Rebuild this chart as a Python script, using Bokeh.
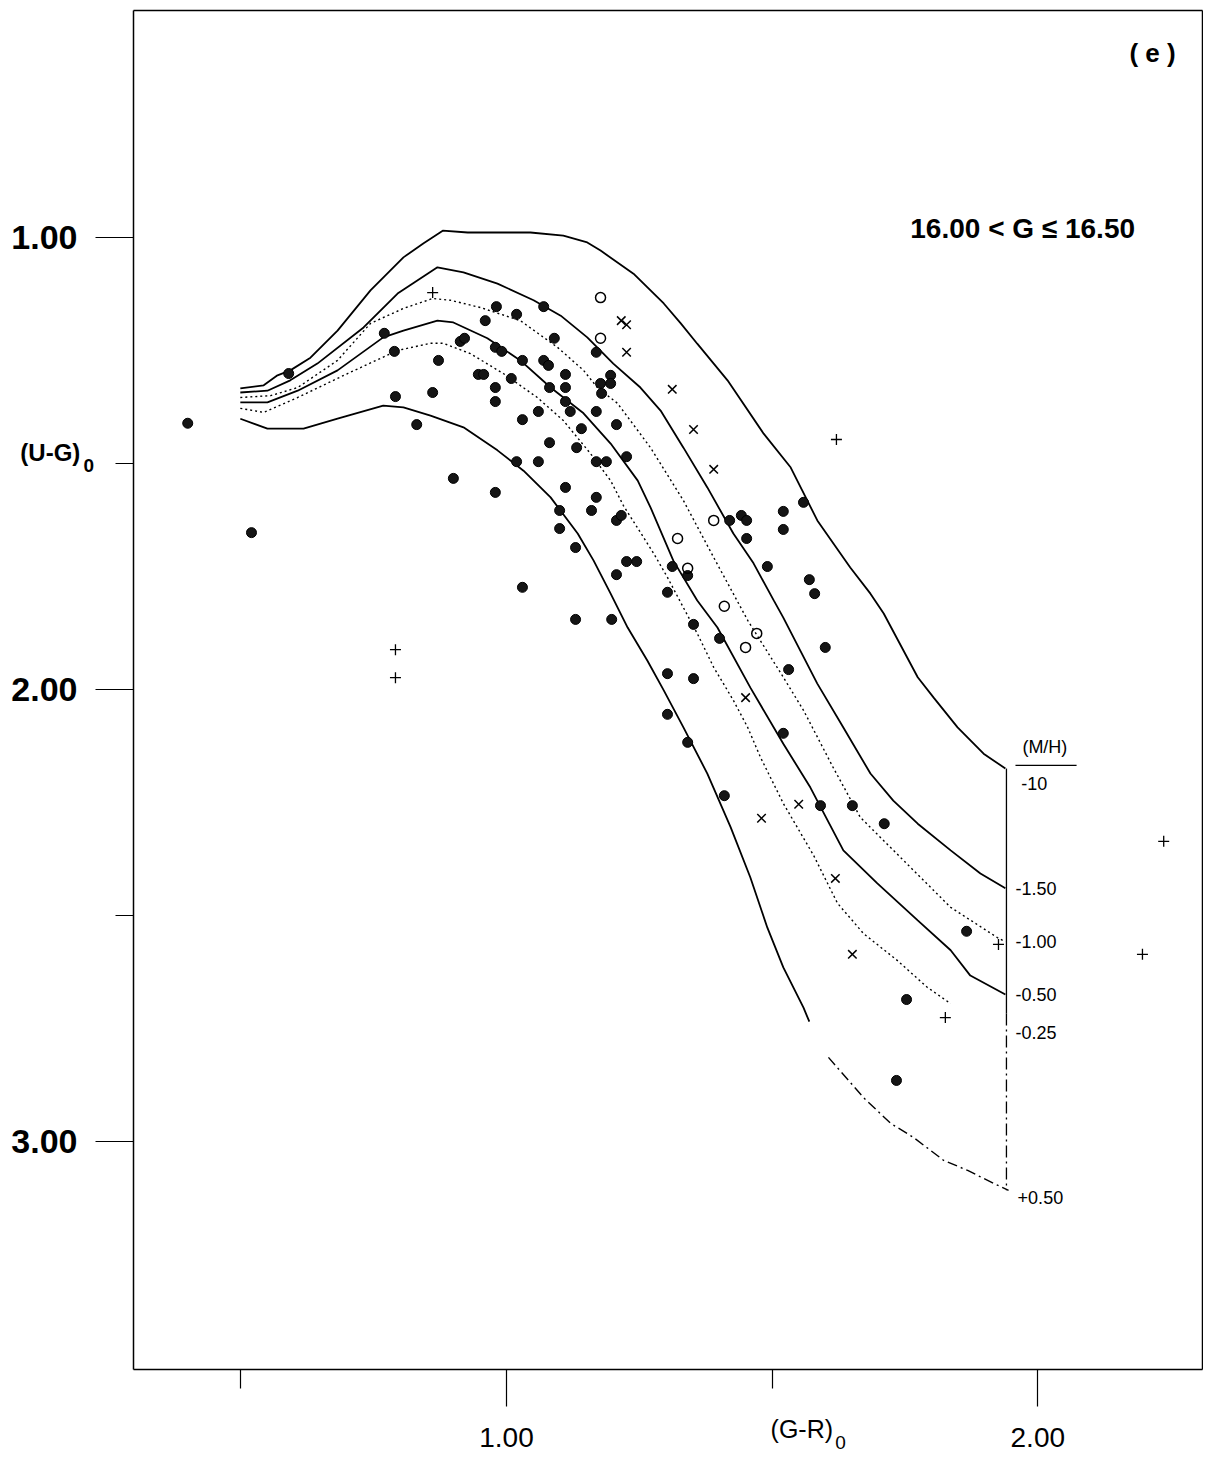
from bokeh.plotting import figure
from bokeh.models import FixedTicker, Label, NumeralTickFormatter, LinearAxis, Range1d
from bokeh.embed import file_html
from bokeh.resources import INLINE

# ---------------- data ----------------
# filled circles
dot_x = [0.400, 0.520, 0.590, 0.770, 0.789, 0.791, 0.831, 0.861, 0.872, 0.900,
         0.913, 0.921, 0.947, 0.957, 0.960, 0.979, 0.991, 0.979, 0.979, 0.979,
         0.981, 1.009, 1.019, 1.019, 1.030, 1.030, 1.030, 1.060, 1.060, 1.070,
         1.070, 1.079, 1.081, 1.081, 1.090, 1.100, 1.100, 1.111, 1.111, 1.111,
         1.111, 1.120, 1.130, 1.130, 1.132, 1.141, 1.160, 1.169, 1.169, 1.169,
         1.169, 1.177, 1.179, 1.188, 1.196, 1.196, 1.198, 1.207, 1.207, 1.216,
         1.207, 1.226, 1.226, 1.245, 1.303, 1.303, 1.303, 1.312, 1.341, 1.341,
         1.352, 1.352, 1.401, 1.410, 1.420, 1.442, 1.452, 1.452, 1.491, 1.521,
         1.521, 1.521, 1.531, 1.559, 1.570, 1.580, 1.591, 1.600, 1.651, 1.711,
         1.734, 1.753, 1.866]
dot_y = [1.411, 1.653, 1.301, 1.212, 1.252, 1.352, 1.414, 1.343, 1.272, 1.533,
         1.230, 1.223, 1.303, 1.303, 1.184, 1.243, 1.252, 1.332, 1.363, 1.564,
         1.153, 1.312, 1.170, 1.496, 1.272, 1.403, 1.774, 1.385, 1.496, 1.153,
         1.272, 1.283, 1.332, 1.454, 1.223, 1.604, 1.644, 1.303, 1.332, 1.363,
         1.553, 1.385, 1.686, 1.845, 1.465, 1.423, 1.604, 1.254, 1.385, 1.496,
         1.575, 1.323, 1.345, 1.496, 1.305, 1.323, 1.845, 1.414, 1.626, 1.615,
         1.746, 1.485, 1.717, 1.717, 1.785, 1.965, 2.055, 1.728, 1.748, 2.117,
         1.856, 1.976, 1.887, 2.235, 1.626, 1.615, 1.626, 1.666, 1.728, 1.606,
         1.646, 2.097, 1.956, 1.586, 1.757, 1.788, 2.257, 1.907, 2.257, 2.297,
         2.865, 2.686, 2.535]

# open circles
open_x = [1.177, 1.177, 1.322, 1.341, 1.390, 1.410, 1.471, 1.450]
open_y = [1.133, 1.223, 1.666, 1.732, 1.626, 1.816, 1.876, 1.907]

# diagonal crosses
xmark_x = [1.216, 1.226, 1.226, 1.312, 1.352, 1.390, 1.450, 1.480, 1.550, 1.619, 1.651]
xmark_y = [1.184, 1.193, 1.254, 1.336, 1.425, 1.513, 2.018, 2.285, 2.254, 2.418, 2.586]

# plus signs
plus_x = [0.861, 0.791, 0.791, 1.621, 2.237, 2.197, 1.926, 1.826]
plus_y = [1.122, 1.912, 1.974, 1.447, 2.336, 2.586, 2.564, 2.726]

# model loci, one per metallicity [M/H]
mh_m10_x = [0.499, 0.543, 0.569, 0.593, 0.631, 0.682, 0.744, 0.806, 0.844, 0.880,
            0.927, 0.989, 1.045, 1.107, 1.152, 1.177, 1.239, 1.296, 1.328, 1.359,
            1.416, 1.484, 1.535, 1.585, 1.647, 1.685, 1.710, 1.774, 1.804, 1.849,
            1.898, 1.939]
mh_m10_y = [1.334, 1.327, 1.305, 1.294, 1.266, 1.206, 1.117, 1.044, 1.013, 0.985,
            0.989, 0.989, 0.989, 0.996, 1.011, 1.029, 1.080, 1.146, 1.190, 1.235,
            1.316, 1.434, 1.509, 1.626, 1.730, 1.788, 1.832, 1.973, 2.018, 2.084,
            2.142, 2.175]

mh_m150_x = [0.499, 0.550, 0.593, 0.644, 0.731, 0.795, 0.870, 0.919, 0.983, 1.051,
             1.102, 1.152, 1.201, 1.252, 1.290, 1.333, 1.378, 1.427, 1.465, 1.503,
             1.521, 1.585, 1.634, 1.685, 1.728, 1.774, 1.836, 1.892, 1.939]
mh_m150_y = [1.343, 1.339, 1.316, 1.279, 1.199, 1.124, 1.066, 1.077, 1.102, 1.139,
             1.173, 1.221, 1.279, 1.332, 1.383, 1.465, 1.553, 1.655, 1.721, 1.803,
             1.841, 1.987, 2.084, 2.186, 2.246, 2.297, 2.356, 2.407, 2.440]

mh_m100_x = [0.499, 0.556, 0.607, 0.682, 0.744, 0.806, 0.861, 0.895, 0.951, 1.026,
             1.096, 1.145, 1.171, 1.209, 1.247, 1.271, 1.333, 1.390, 1.454, 1.521,
             1.559, 1.615, 1.666, 1.742, 1.836, 1.924, 1.939]
mh_m100_y = [1.354, 1.350, 1.332, 1.272, 1.190, 1.157, 1.135, 1.139, 1.155, 1.184,
             1.243, 1.294, 1.332, 1.367, 1.427, 1.465, 1.582, 1.708, 1.847, 1.973,
             2.046, 2.173, 2.283, 2.372, 2.482, 2.549, 2.558]

mh_m050_x = [0.499, 0.550, 0.607, 0.682, 0.768, 0.806, 0.870, 0.900, 0.964, 1.026,
             1.083, 1.145, 1.196, 1.247, 1.271, 1.314, 1.359, 1.397, 1.459, 1.521,
             1.572, 1.634, 1.698, 1.774, 1.836, 1.873, 1.939]
mh_m050_y = [1.365, 1.365, 1.339, 1.294, 1.221, 1.206, 1.184, 1.188, 1.223, 1.272,
             1.332, 1.389, 1.456, 1.538, 1.597, 1.715, 1.803, 1.863, 1.996, 2.120,
             2.217, 2.356, 2.429, 2.511, 2.577, 2.633, 2.675]

mh_m025_x = [0.499, 0.543, 0.607, 0.701, 0.795, 0.857, 0.881, 0.932, 0.994, 1.058,
             1.107, 1.158, 1.196, 1.220, 1.277, 1.303, 1.333, 1.359, 1.390, 1.427,
             1.454, 1.478, 1.521, 1.578, 1.623, 1.672, 1.736, 1.792, 1.836]
mh_m025_y = [1.378, 1.387, 1.354, 1.301, 1.250, 1.234, 1.234, 1.257, 1.301, 1.354,
             1.405, 1.478, 1.538, 1.593, 1.699, 1.752, 1.819, 1.876, 1.951, 2.024,
             2.084, 2.150, 2.252, 2.367, 2.473, 2.540, 2.600, 2.659, 2.695]

mh_p050_x = [0.499, 0.550, 0.618, 0.682, 0.768, 0.806, 0.857, 0.919, 0.983, 1.032,
             1.083, 1.134, 1.164, 1.196, 1.228, 1.265, 1.296, 1.333, 1.378, 1.422,
             1.459, 1.491, 1.521, 1.559, 1.570]
mh_p050_y = [1.401, 1.423, 1.423, 1.401, 1.372, 1.376, 1.394, 1.420, 1.471, 1.516,
             1.575, 1.655, 1.715, 1.788, 1.863, 1.936, 2.002, 2.084, 2.186, 2.305,
             2.416, 2.527, 2.615, 2.704, 2.735]
# continuation of the +0.50 locus (drawn broken)
mh_p050_ext_x = [1.606, 1.672, 1.723, 1.766, 1.823, 1.868, 1.917, 1.945]
mh_p050_ext_y = [2.814, 2.903, 2.960, 2.991, 3.042, 3.064, 3.093, 3.108]

# [M/H] key: line joining the ends of the loci, and the labels
key_x = 1.941
key_solid_y = [2.175, 2.717]
key_dash_y = [2.717, 3.108]
key_title = "(M/H)"
key_title_pos = (1.971, 2.128)
key_rule_x = [1.958, 2.073]
key_rule_y = 2.168
key_labels = ["-10", "-1.50", "-1.00", "-0.50", "-0.25", "+0.50"]
key_label_x = [1.969, 1.958, 1.958, 1.958, 1.958, 1.962]
key_label_y = [2.208, 2.440, 2.558, 2.675, 2.759, 3.124]

# axes / box
x_major = [1.0, 2.0]
x_minor = [0.5, 1.5]
y_major = [1.0, 2.0, 3.0]
y_minor = [1.5, 2.5]
box_left, box_right = 0.298, 2.310     # (G-R)o at the box sides
box_top, box_bottom = 0.498, 3.504     # (U-G)o at the box top / bottom
view_x = (0.0476, 2.3119)              # whole drawing area, data units
view_y = (3.6970, 0.4757)

W, H = 1203, 1456

# ---------------- figure ----------------
p = figure(width=W, height=H, title=None,
           x_range=Range1d(*view_x), y_range=Range1d(*view_y),
           output_backend="svg", toolbar_location=None,
           min_border=0, min_border_left=0, min_border_right=0,
           min_border_top=0, min_border_bottom=0,
           background_fill_color="white", border_fill_color="white")
p.grid.visible = False
p.outline_line_color = None

# bottom axis
xa = p.xaxis[0]
xa.fixed_location = box_bottom
xa.bounds = (box_left, box_right)
xa.ticker = FixedTicker(ticks=x_major, minor_ticks=x_minor)
xa.formatter = NumeralTickFormatter(format="0.00")
xa.axis_line_width = 1.5
xa.major_tick_in = 0
xa.major_tick_out = 37
xa.minor_tick_in = 0
xa.minor_tick_out = 19
xa.major_tick_line_width = 1.2
xa.minor_tick_line_width = 1.2
xa.major_label_standoff = 22
xa.major_label_text_font = "Liberation Sans Narrow, Liberation Sans, Arial"
xa.major_label_text_font_size = "28px"
xa.major_label_text_color = "black"

# left axis
ya = p.yaxis[0]
ya.fixed_location = box_left
ya.bounds = (box_top, box_bottom)
ya.ticker = FixedTicker(ticks=y_major, minor_ticks=y_minor)
ya.formatter = NumeralTickFormatter(format="0.00")
ya.axis_line_width = 1.5
ya.major_tick_in = 0
ya.major_tick_out = 38
ya.minor_tick_in = 0
ya.minor_tick_out = 18
ya.major_tick_line_width = 1.2
ya.minor_tick_line_width = 1.2
ya.major_label_standoff = 18
ya.major_label_text_font = "Liberation Sans"
ya.major_label_text_font_style = "bold"
ya.major_label_text_font_size = "34px"
ya.major_label_text_color = "black"

# top and right sides of the box (axes without ticks)
def plain_axis(loc, bounds):
    ax = LinearAxis(fixed_location=loc, bounds=bounds,
                    ticker=FixedTicker(ticks=[], minor_ticks=[]),
                    axis_line_width=1.5, major_tick_out=0, major_tick_in=0,
                    minor_tick_out=0, minor_tick_in=0,
                    major_label_text_font_size="0px")
    return ax

p.add_layout(plain_axis(box_top, (box_left, box_right)), "above")
p.add_layout(plain_axis(box_right, (box_top, box_bottom)), "right")

# loci
solid = dict(line_color="black", line_width=1.8)
dotted = dict(line_color="black", line_width=1.4, line_dash="2 3")
p.line(mh_m10_x, mh_m10_y, **solid)
p.line(mh_m150_x, mh_m150_y, **solid)
p.line(mh_m100_x, mh_m100_y, **dotted)
p.line(mh_m050_x, mh_m050_y, **solid)
p.line(mh_m025_x, mh_m025_y, **dotted)
p.line(mh_p050_x, mh_p050_y, **solid)
p.line(mh_p050_ext_x, mh_p050_ext_y, line_color="black", line_width=1.4,
       line_dash="10 4 2 4")

# key line
p.line([key_x, key_x], key_solid_y, line_color="black", line_width=1.3)
p.line([key_x, key_x], key_dash_y, line_color="black", line_width=1.3,
       line_dash="12 4 2 4")
p.line(key_rule_x, [key_rule_y, key_rule_y], line_color="black", line_width=1.3)

# stars
p.scatter(dot_x, dot_y, marker="circle", size=10, fill_color="#151515",
          line_color="#000000", line_width=1)
p.scatter(open_x, open_y, marker="circle", size=10, fill_color=None,
          line_color="black", line_width=1.5)
p.scatter(xmark_x, xmark_y, marker="x", size=12, line_color="black", line_width=1.5)
p.scatter(plus_x, plus_y, marker="cross", size=11, line_color="black", line_width=1.3)

# texts
def add_label(x, y, text, size, font="Liberation Sans", style="normal",
              align="left", baseline="middle"):
    p.add_layout(Label(x=x, y=y, text=text, text_font=font,
                       text_font_size=size, text_font_style=style,
                       text_align=align, text_baseline=baseline,
                       text_color="black"))

add_label(key_title_pos[0], key_title_pos[1], key_title, "18px")
for t, lx, ly in zip(key_labels, key_label_x, key_label_y):
    add_label(lx, ly, t, "18px")

add_label(2.216, 0.591, "( e )", "26px", style="bold", align="center")
add_label(1.760, 0.980, "16.00 < G \u2264 16.50", "28px", style="bold")

# axis titles
add_label(0.085, 1.476, "(U-G)", "24px", style="bold")
add_label(0.204, 1.504, "0", "19px", style="bold")
narrow = "Liberation Sans Narrow, Liberation Sans, Arial"
add_label(1.497, 3.637, "(G-R)", "25px", font=narrow)
add_label(1.619, 3.666, "0", "19px", font=narrow)

open("out.html", "w").write(file_html(p, INLINE))
